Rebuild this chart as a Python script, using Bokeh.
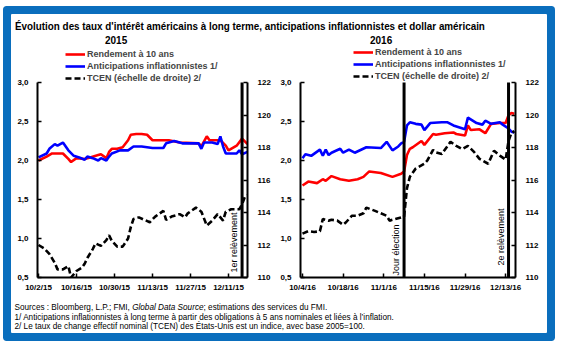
import math
import pandas as pd
from bokeh.plotting import figure
from bokeh.models import Range1d, LinearAxis, FixedTicker, Label, Legend, LegendItem, Div
from bokeh.layouts import column, row
from bokeh.embed import file_html
from bokeh.resources import INLINE

# ---------------- data ----------------
title_text = "Évolution des taux d'intérêt américains à long terme, anticipations inflationnistes et dollar américain"
years = ["2015", "2016"]
series_names = ["Rendement à 10 ans", "Anticipations inflationnistes 1/", "TCEN (échelle de droite) 2/"]
notes = [
    "Sources : Bloomberg, L.P.; FMI, <i>Global Data Source</i>; estimations des services du FMI.",
    "1/ Anticipations inflationnistes à long terme à partir des obligations à 5 ans nominales et liées à l’inflation.",
    "2/ Le taux de change effectif nominal (TCEN) des États-Unis est un indice, avec base 2005=100.",
]

# 2015 panel
red15_dates = ["2015-10-02", "2015-10-05", "2015-10-07", "2015-10-11", "2015-10-13", "2015-10-14", "2015-10-16",
               "2015-10-19", "2015-10-21", "2015-10-24", "2015-10-25", "2015-10-27", "2015-10-28", "2015-10-29",
               "2015-10-31", "2015-11-02", "2015-11-04", "2015-11-05", "2015-11-07", "2015-11-09", "2015-11-11",
               "2015-11-13", "2015-11-19", "2015-11-23", "2015-11-30", "2015-12-01", "2015-12-03", "2015-12-04",
               "2015-12-08", "2015-12-10", "2015-12-11", "2015-12-14", "2015-12-16", "2015-12-18"]
red15 = [2.00, 2.05, 2.09, 2.09, 2.02, 1.98, 2.03, 2.02, 2.04, 2.07, 2.08, 2.03, 2.11, 2.15, 2.15, 2.17, 2.26,
         2.33, 2.34, 2.34, 2.33, 2.26, 2.26, 2.23, 2.22, 2.18, 2.31, 2.26, 2.26, 2.19, 2.13, 2.19, 2.28, 2.21]

blue15_dates = ["2015-10-02", "2015-10-05", "2015-10-06", "2015-10-08", "2015-10-09", "2015-10-11", "2015-10-13",
                "2015-10-15", "2015-10-17", "2015-10-19", "2015-10-20", "2015-10-22", "2015-10-24", "2015-10-25",
                "2015-10-27", "2015-10-28", "2015-10-29", "2015-11-01", "2015-11-04", "2015-11-06", "2015-11-09",
                "2015-11-13", "2015-11-17", "2015-11-18", "2015-11-21", "2015-11-24", "2015-11-30", "2015-12-01",
                "2015-12-02", "2015-12-05", "2015-12-07", "2015-12-08", "2015-12-09", "2015-12-10", "2015-12-14",
                "2015-12-15", "2015-12-16", "2015-12-18"]
blue15 = [2.04, 2.09, 2.15, 2.21, 2.19, 2.23, 2.13, 2.06, 2.04, 2.01, 2.05, 2.03, 2.00, 2.03, 2.00, 2.05, 2.09,
          2.13, 2.13, 2.18, 2.18, 2.16, 2.16, 2.22, 2.25, 2.22, 2.22, 2.15, 2.23, 2.23, 2.21, 2.31, 2.18, 2.09,
          2.09, 2.13, 2.08, 2.11]

tcen15_dates = ["2015-10-02", "2015-10-04", "2015-10-06", "2015-10-08", "2015-10-09", "2015-10-11", "2015-10-13",
                "2015-10-14", "2015-10-16", "2015-10-18", "2015-10-19", "2015-10-20", "2015-10-22", "2015-10-23",
                "2015-10-25", "2015-10-27", "2015-10-28", "2015-10-29", "2015-10-31", "2015-11-02", "2015-11-04",
                "2015-11-05", "2015-11-06", "2015-11-08", "2015-11-12", "2015-11-14", "2015-11-17", "2015-11-18",
                "2015-11-20", "2015-11-23", "2015-11-25", "2015-11-26", "2015-11-29", "2015-12-01", "2015-12-03",
                "2015-12-05", "2015-12-07", "2015-12-09", "2015-12-10", "2015-12-12", "2015-12-15", "2015-12-16",
                "2015-12-17", "2015-12-18"]
tcen15 = [112.0, 111.8, 111.45, 110.9, 110.5, 110.5, 110.7, 110.0, 110.4, 110.6, 110.85, 111.2, 111.75, 112.1,
          111.95, 112.3, 112.6, 112.25, 111.9, 111.9, 112.4, 113.1, 113.6, 113.7, 113.4, 113.75, 114.1, 113.55,
          113.75, 113.9, 113.7, 113.95, 114.3, 114.05, 113.2, 113.5, 113.9, 113.5, 114.05, 114.2, 114.2, 114.5,
          114.95, 115.05]

ticks15 = ["2015-10-02", "2015-10-16", "2015-10-30", "2015-11-13", "2015-11-27", "2015-12-11"]
tick_labels15 = ["10/2/15", "10/16/15", "10/30/15", "11/13/15", "11/27/15", "12/11/15"]
events15 = [("2015-12-16", "1er relèvement")]

# 2016 panel
red16_dates = ["2016-10-04", "2016-10-06", "2016-10-09", "2016-10-11", "2016-10-12", "2016-10-14", "2016-10-17",
               "2016-10-20", "2016-10-23", "2016-10-25", "2016-10-27", "2016-10-31", "2016-11-04", "2016-11-07",
               "2016-11-08", "2016-11-09", "2016-11-10", "2016-11-11", "2016-11-14", "2016-11-15", "2016-11-18",
               "2016-11-19", "2016-11-22", "2016-11-25", "2016-11-26", "2016-11-29", "2016-11-30", "2016-12-01",
               "2016-12-04", "2016-12-06", "2016-12-08", "2016-12-11", "2016-12-13", "2016-12-14", "2016-12-15",
               "2016-12-16"]
red16 = [1.68, 1.73, 1.71, 1.76, 1.74, 1.80, 1.76, 1.74, 1.76, 1.79, 1.86, 1.84, 1.79, 1.83, 1.86, 2.07, 2.15,
         2.17, 2.25, 2.20, 2.34, 2.33, 2.35, 2.36, 2.34, 2.32, 2.45, 2.39, 2.40, 2.35, 2.47, 2.48, 2.48, 2.58,
         2.61, 2.60]

blue16_dates = ["2016-10-04", "2016-10-05", "2016-10-07", "2016-10-10", "2016-10-11", "2016-10-12", "2016-10-13",
                "2016-10-14", "2016-10-17", "2016-10-18", "2016-10-20", "2016-10-22", "2016-10-26", "2016-10-31",
                "2016-11-02", "2016-11-04", "2016-11-06", "2016-11-07", "2016-11-08", "2016-11-09", "2016-11-10",
                "2016-11-12", "2016-11-14", "2016-11-15", "2016-11-17", "2016-11-21", "2016-11-23", "2016-11-25",
                "2016-11-29", "2016-11-30", "2016-12-03", "2016-12-05", "2016-12-06", "2016-12-08", "2016-12-11",
                "2016-12-12", "2016-12-14", "2016-12-15", "2016-12-16"]
blue16 = [2.03, 2.08, 2.06, 2.14, 2.06, 2.14, 2.07, 2.10, 2.15, 2.10, 2.14, 2.10, 2.17, 2.16, 2.24, 2.13, 2.18,
          2.22, 2.24, 2.45, 2.49, 2.47, 2.46, 2.39, 2.48, 2.49, 2.49, 2.45, 2.40, 2.55, 2.48, 2.46, 2.51, 2.47,
          2.49, 2.46, 2.41, 2.37, 2.36]

tcen16_dates = ["2016-10-04", "2016-10-06", "2016-10-08", "2016-10-10", "2016-10-11", "2016-10-13", "2016-10-14",
                "2016-10-16", "2016-10-18", "2016-10-19", "2016-10-21", "2016-10-23", "2016-10-25", "2016-10-26",
                "2016-10-29", "2016-10-31", "2016-11-02", "2016-11-03", "2016-11-05", "2016-11-07", "2016-11-08",
                "2016-11-09", "2016-11-10", "2016-11-12", "2016-11-15", "2016-11-16", "2016-11-18", "2016-11-19",
                "2016-11-21", "2016-11-24", "2016-11-26", "2016-11-28", "2016-11-30", "2016-12-02", "2016-12-04",
                "2016-12-07", "2016-12-09", "2016-12-11", "2016-12-13", "2016-12-14", "2016-12-15", "2016-12-16"]
tcen16 = [112.7, 112.85, 112.8, 112.85, 113.6, 113.5, 113.55, 113.5, 113.25, 113.4, 113.8, 113.8, 113.95, 114.3,
          114.1, 113.95, 113.8, 113.5, 113.6, 113.7, 113.75, 115.5, 116.2, 116.7, 117.0, 117.2, 117.85, 117.7,
          117.6, 118.35, 118.1, 117.9, 118.1, 117.75, 117.3, 117.0, 117.8, 117.5, 117.25, 118.4, 118.9, 119.0]

ticks16 = ["2016-10-04", "2016-10-18", "2016-11-01", "2016-11-15", "2016-11-29", "2016-12-13"]
tick_labels16 = ["10/4/16", "10/18/16", "11/1/16", "11/15/16", "11/29/16", "12/13/16"]
events16 = [("2016-11-08", "Jour élection"), ("2016-12-14", "2e relèvement")]

left_ticks = [0.5, 1.0, 1.5, 2.0, 2.5, 3.0]
left_tick_labels = ["0,5", "1,0", "1,5", "2,0", "2,5", "3,0"]
right_ticks = [110, 112, 114, 116, 118, 120, 122]
left_bounds = (0.5, 3.0)
right_bounds = (110, 122)

# ---------------- styling ----------------
FONT = "Liberation Sans"
RED, BLUE, BLACK = "#ff0000", "#0000ff", "#000000"
FRAME_BLUE = "#0a6ebd"
AXIS_H = 195      # pixel height of the value axes
TOP_PAD = 36      # room above the axes for the legend (inside the frame)


def ms(d):
    return pd.Timestamp(d).value // 10**6


def ext(bounds):
    lo, hi = bounds
    return lo, hi + (hi - lo) * TOP_PAD / AXIS_H


def panel(red_d, red_v, blue_d, blue_v, tc_d, tc_v, x0, x1, ticks, tlabels, events, event_offsets,
          width, bl, br, leg_xy):
    p = figure(width=width, height=TOP_PAD + AXIS_H + 19, x_axis_type="datetime", output_backend="svg",
               toolbar_location=None, title=None,
               x_range=Range1d(ms(x0[0]) + x0[1] * 86400000, ms(x1[0]) + x1[1] * 86400000),
               y_range=Range1d(*ext(left_bounds)), min_border_left=bl, min_border_right=br,
               min_border_top=0, min_border_bottom=19, y_axis_location="left")
    p.extra_y_ranges = {"tcen": Range1d(*ext(right_bounds))}
    p.outline_line_color = None
    p.grid.visible = False
    p.background_fill_color = "white"
    p.border_fill_color = "white"

    r1 = p.line(pd.to_datetime(red_d), red_v, line_color=RED, line_width=2.6)
    r2 = p.line(pd.to_datetime(blue_d), blue_v, line_color=BLUE, line_width=2.6)
    r3 = p.line(pd.to_datetime(tc_d), tc_v, line_color=BLACK, line_width=2.6, line_dash="6 3",
                y_range_name="tcen")

    raxis = LinearAxis(y_range_name="tcen")
    p.add_layout(raxis, "right")

    for ax in p.axis:
        ax.axis_line_width = 2
        ax.axis_line_color = "black"
        ax.major_tick_in = 4
        ax.major_tick_out = 0
        ax.major_tick_line_width = 1.5
        ax.minor_tick_line_color = None
        ax.major_label_text_font = FONT
        ax.major_label_text_font_style = "bold"
        ax.major_label_text_font_size = "8px"
        ax.major_label_text_color = "black"

    tick_ms = [ms(t) for t in ticks]
    p.xaxis.ticker = FixedTicker(ticks=tick_ms)
    p.xaxis.major_label_overrides = {float(t): lab for t, lab in zip(tick_ms, tlabels)}
    p.xaxis.major_label_standoff = 5

    p.yaxis[0].ticker = FixedTicker(ticks=left_ticks)
    p.yaxis[0].bounds = left_bounds
    p.yaxis[0].major_label_overrides = {float(t): lab for t, lab in zip(left_ticks, left_tick_labels)}
    p.yaxis[0].major_label_standoff = 9
    raxis.ticker = FixedTicker(ticks=right_ticks)
    raxis.bounds = right_bounds
    raxis.major_label_standoff = 10

    ev_x = pd.to_datetime([d for d, _ in events])
    p.segment(x0=ev_x, y0=[left_bounds[0]] * len(events), x1=ev_x, y1=[left_bounds[1]] * len(events),
              line_color="black", line_width=3)
    for (d, txt), yoff in zip(events, event_offsets):
        p.add_layout(Label(x=ms(d), y=left_bounds[0], text=txt, angle=math.pi / 2, text_align="left",
                           text_baseline="bottom", x_offset=-3, y_offset=yoff, text_font=FONT,
                           text_font_size="9px", text_color="black"))

    legend = Legend(items=[LegendItem(label=series_names[0], renderers=[r1]),
                           LegendItem(label=series_names[1], renderers=[r2]),
                           LegendItem(label=series_names[2], renderers=[r3])],
                    location=leg_xy, orientation="vertical", label_text_font=FONT,
                    label_text_font_style="bold", label_text_font_size="9px", glyph_width=20,
                    glyph_height=12, label_height=12, label_standoff=2, spacing=0, padding=0, margin=0,
                    background_fill_alpha=0, border_line_alpha=0)
    p.add_layout(legend)
    return p


p1 = panel(red15_dates, red15, blue15_dates, blue15, tcen15_dates, tcen15,
           ("2015-10-02", -0.37), ("2015-12-18", 0.0), ticks15, tick_labels15, events15, [5],
           265, 26, 29, (28, 193))
p2 = panel(red16_dates, red16, blue16_dates, blue16, tcen16_dates, tcen16,
           ("2016-10-04", -0.69), ("2016-12-16", 0.4), ticks16, tick_labels16, events16, [2, 12],
           271, 24, 32, (53, 195))

head = Div(width=536, height=32, margin=0, text=(
    f"<div style=\"position:relative;width:536px;height:32px;font-family:'{FONT}';font-weight:bold;color:black\">"
    f"<span style='position:absolute;left:4px;top:5px;font-size:10.6px;white-space:nowrap;"
    f"transform:scaleX(0.93);transform-origin:left center'>{title_text}</span>"
    f"<span style='position:absolute;left:94px;top:20px;font-size:10px'>{years[0]}</span>"
    f"<span style='position:absolute;left:359px;top:20px;font-size:10px'>{years[1]}</span>"
    f"</div>"))
foot = Div(width=536, height=37, margin=0, text=(
    f"<div style=\"font-family:'{FONT}';font-size:9.3px;line-height:9.7px;padding:7px 0 0 4px;color:black;"
    f"white-space:nowrap;transform:scaleX(0.88);transform-origin:left top\">"
    + "<br>".join(notes) + "</div>"))

layout = column(head, row(p1, p2, spacing=0), foot, spacing=0, margin=(14, 0, 0, 11),
                styles={"box-shadow": f"0 0 0 8px {FRAME_BLUE}", "border-radius": "1px",
                        "background-color": "white"})

open("out.html", "w").write(file_html(layout, INLINE))
